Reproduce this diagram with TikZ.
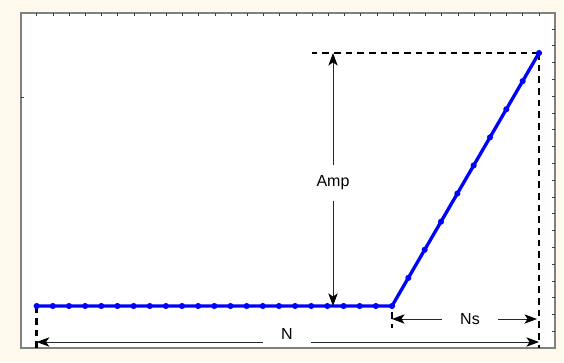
\documentclass[tikz,border=0pt]{standalone}
\usepackage{fontspec}
\setmainfont{Liberation Sans}
\usetikzlibrary{arrows.meta,positioning,calc}
\definecolor{PaperCream}{HTML}{FFF8EC}
\definecolor{FrameGray}{HTML}{808080}
\definecolor{SignalBlue}{HTML}{0000FF}

\begin{document}
\begin{tikzpicture}[
    x=0.75pt, y=-0.75pt,
    font=\fontsize{12}{14}\selectfont,
    frame/.style={draw=FrameGray, line width=0.9pt, fill=white},
    tickmark/.style={draw=black!75, line width=0.6pt},
    signal/.style={draw=SignalBlue, line width=2.5pt, line join=round},
    sample/.style={fill=SignalBlue},
    guide/.style={draw=black, line width=1.9pt, dash pattern=on 5pt off 3.75pt},
    dimarr/.style={draw=black!85, line width=0.6pt, -{Stealth[length=9.5pt,width=7pt,inset=2.5pt,color=black]}},
    dimlabel/.style={inner xsep=13.5pt, inner ysep=7.6pt}
]
% background and axes box
\fill[PaperCream] (0,0) rectangle (564,362);
\draw[frame] (21,13) rectangle (555,348);
\useasboundingbox (0,0) rectangle (564,362);

% ticks on the box
\foreach \k in {0,...,31}
    \draw[tickmark] ({36.7+16.2*\k},13) -- ++(0,3);
\foreach \k in {0,...,18}
    \draw[tickmark] (555,{29+16.8*\k}) -- ++(-3,0);
\draw[tickmark] (21,97) -- ++(3,0);

% key points of the ramp
\coordinate (start) at (36.7,306);
\coordinate (knee) at (392,306);
\coordinate (peak) at (539,53);
\coordinate (base) at (0,348);
\coordinate (dimN) at (0,342);

% dashed guides
\draw[guide] (peak) -- (312,53);
\draw[guide] (peak) -- (peak |- base);
\draw[guide] (start |- base) -- (start);
\draw[guide, dash phase=4pt] (knee) -- ++(0,22);

% the signal
\draw[signal] (start) -- (knee) -- (peak);
\foreach \k in {0,...,22}
    \fill[sample] ($(start)!\k/22!(knee)$) circle (2.3pt);
\foreach \k in {1,...,9}
    \fill[sample] ($(knee)!\k/9!(peak)$) circle (2.3pt);

% dimension labels
\node[dimlabel] (amp) at (333,183) {Amp};
\node[dimlabel] (ns) at (470,319) {Ns};
\node[dimlabel] (n) at (287,334) {N};

\draw[dimarr] (amp.north) -- (amp.north |- peak);
\draw[dimarr] (amp.south) -- (amp.south |- knee);
\draw[dimarr] (ns.west) -- (knee |- ns.west);
\draw[dimarr, shorten >=1.5pt] (ns.east) -- (peak |- ns.east);
\draw[dimarr] (n.west |- dimN) -- (start |- dimN);
\draw[dimarr] (n.east |- dimN) -- (peak |- dimN);
\end{tikzpicture}
\end{document}
